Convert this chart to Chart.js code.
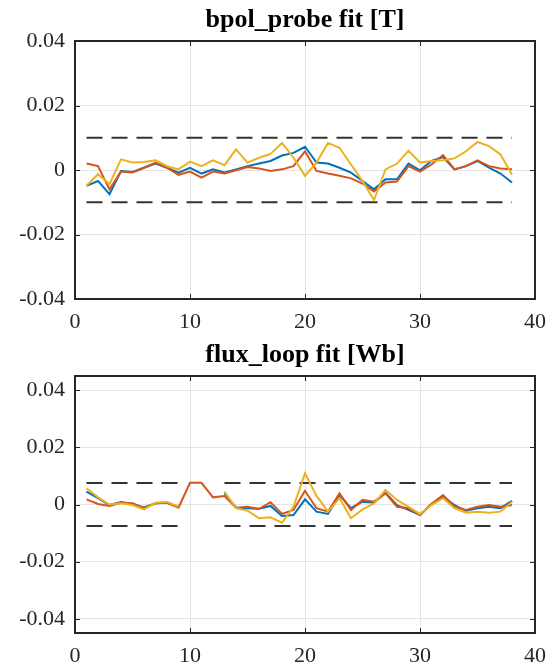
<!DOCTYPE html>
<html>
<head>
<meta charset="utf-8">
<title>fit residuals</title>
<script src="https://cdn.jsdelivr.net/npm/chart.js@4.4.0/dist/chart.umd.min.js"></script>
<style>
  body { margin: 0; background: #fff; }
  #wrap { position: relative; width: 546px; height: 667px; }
  canvas { position: absolute; left: 0; }
</style>
</head>
<body>
<div id="wrap">
  <canvas id="bpolChart" width="546" height="335" style="top:0"></canvas>
  <canvas id="fluxChart" width="546" height="332" style="top:335px"></canvas>
</div>
<script>
// sensor index along the x axis
const sensorIdx = [1, 2, 3, 4, 5, 6, 7, 8, 9, 10, 11, 12, 13, 14, 15, 16, 17, 18, 19,
  20, 21, 22, 23, 24, 25, 26, 27, 28, 29, 30, 31, 32, 33, 34, 35, 36, 37, 38];

// bpol_probe fit residuals [T]
const bpolBlue = [-0.0049, -0.0034, -0.0075, -0.0003, -0.0006, 0.0007, 0.0020, 0.0007, -0.0008, 0.0007,
  -0.0011, 0.0002, -0.0008, 0.0002, 0.0012, 0.0020, 0.0028, 0.0045, 0.0053, 0.0072,
  0.0023, 0.0020, 0.0007, -0.0008, -0.0034, -0.0060, -0.0029, -0.0029, 0.0020, -0.0001,
  0.0028, 0.0040, 0.0002, 0.0012, 0.0028, 0.0007, -0.0011, -0.0039];
const bpolRed = [0.0020, 0.0012, -0.0060, -0.0005, -0.0008, 0.0007, 0.0023, 0.0007, -0.0015, -0.0005,
  -0.0024, -0.0005, -0.0011, -0.0001, 0.0009, 0.0005, -0.0003, 0.0002, 0.0012, 0.0058,
  -0.0003, -0.0011, -0.0018, -0.0026, -0.0042, -0.0067, -0.0039, -0.0036, 0.0012, -0.0005,
  0.0017, 0.0046, 0.0002, 0.0012, 0.0030, 0.0012, 0.0005, 0.0002];
const bpolYellow = [-0.0049, -0.0013, -0.0044, 0.0033, 0.0023, 0.0025, 0.0030, 0.0012, 0.0002, 0.0026,
  0.0012, 0.0030, 0.0015, 0.0064, 0.0023, 0.0038, 0.0050, 0.0084, 0.0038, -0.0018,
  0.0023, 0.0084, 0.0069, 0.0017, -0.0034, -0.0093, 0.0002, 0.0020, 0.0060, 0.0023,
  0.0028, 0.0030, 0.0036, 0.0058, 0.0087, 0.0074, 0.0048, -0.0015];

// flux_loop fit residuals [Wb]
const fluxBlue = [0.0045, 0.0022, -0.0002, 0.0009, 0.0002, -0.0010, 0.0004, 0.0006, -0.0008, null,
  null, null, 0.0040, -0.0011, -0.0013, -0.0015, -0.0005, -0.0040, -0.0037, 0.0018,
  -0.0025, -0.0033, 0.0033, -0.0013, 0.0010, 0.0006, 0.0041, -0.0002, -0.0019, -0.0037,
  0.0002, 0.0027, -0.0002, -0.0022, -0.0013, -0.0008, -0.0013, 0.0013];
const fluxRed = [0.0018, 0.0002, -0.0005, 0.0006, 0.0004, -0.0013, 0.0004, 0.0006, -0.0011, 0.0076,
  0.0076, 0.0025, 0.0030, -0.0011, -0.0008, -0.0016, 0.0008, -0.0033, -0.0019, 0.0048,
  -0.0013, -0.0025, 0.0039, -0.0019, 0.0016, 0.0010, 0.0039, -0.0008, -0.0013, -0.0037,
  0.0002, 0.0033, -0.0008, -0.0019, -0.0008, -0.0002, -0.0008, -0.0002];
const fluxYellow = [0.0057, 0.0025, 0.0000, 0.0004, -0.0002, -0.0017, 0.0006, 0.0009, -0.0008, null,
  null, null, 0.0045, -0.0013, -0.0022, -0.0048, -0.0045, -0.0064, -0.0008, 0.0109,
  0.0030, -0.0025, 0.0022, -0.0048, -0.0017, 0.0004, 0.0051, 0.0016, -0.0008, -0.0033,
  -0.0002, 0.0022, -0.0013, -0.0029, -0.0025, -0.0029, -0.0025, 0.0010];

// tolerance bands (+/- level) and the index ranges they cover
const bpolLimit = 0.01;
const bpolLimitSpans = [[1, 38]];
const fluxLimit = 0.0075;
const fluxLimitSpans = [[1, 9], [13, 38]];

const xTicks = [0, 10, 20, 30, 40];
const bpolYTicks = [-0.04, -0.02, 0, 0.02, 0.04];
const fluxYTicks = [-0.04, -0.02, 0, 0.02, 0.04];

const FONT = "'Liberation Serif', 'Times New Roman', serif";
const AXIS_COLOR = '#262626';

const toPoints = (xs, ys) => xs.map((x, i) => ({ x: x, y: ys[i] }));

const limitPoints = (spans, level) => {
  const pts = [];
  spans.forEach((s, i) => {
    if (i > 0) pts.push({ x: (spans[i - 1][1] + s[0]) / 2, y: null });
    pts.push({ x: s[0], y: level }, { x: s[1], y: level });
  });
  return pts;
};

// axes box, inward tick marks and a title centred over the plot area
const boxPlugin = {
  id: 'boxPlugin',
  afterDraw(chart, args, opts) {
    const { ctx, chartArea: a, scales } = chart;
    const len = 5;
    ctx.save();
    ctx.strokeStyle = AXIS_COLOR;
    ctx.lineWidth = 1;
    ctx.beginPath();
    scales.x.ticks.forEach(t => {
      const px = Math.round(scales.x.getPixelForValue(t.value)) + 0.5;
      ctx.moveTo(px, a.bottom); ctx.lineTo(px, a.bottom - len);
      ctx.moveTo(px, a.top); ctx.lineTo(px, a.top + len);
    });
    scales.y.ticks.forEach(t => {
      const py = Math.round(scales.y.getPixelForValue(t.value)) + 0.5;
      ctx.moveTo(a.left, py); ctx.lineTo(a.left + len, py);
      ctx.moveTo(a.right, py); ctx.lineTo(a.right - len, py);
    });
    ctx.stroke();
    ctx.lineWidth = 2;
    ctx.strokeRect(a.left, a.top, a.right - a.left, a.bottom - a.top);

    ctx.fillStyle = '#000';
    ctx.font = 'bold 26px ' + FONT;
    ctx.textAlign = 'center';
    ctx.textBaseline = 'middle';
    ctx.fillText(opts.title, (a.left + a.right) / 2, a.top - 21);
    ctx.restore();
  }
};

function makeChart(id, title, blue, red, yellow, limit, spans, yMax, yTicks, xAxisH) {
  const line = (data, color, order) => ({
    data: data, borderColor: color, backgroundColor: color,
    borderWidth: 2, pointRadius: 0, tension: 0, spanGaps: false, order: order
  });
  const dashed = data => ({
    data: data, borderColor: '#333333', borderWidth: 2, borderDash: [16, 9],
    pointRadius: 0, spanGaps: false, order: 4
  });
  return new Chart(document.getElementById(id), {
    type: 'line',
    data: {
      datasets: [
        line(toPoints(sensorIdx, blue), '#0072BD', 3),
        line(toPoints(sensorIdx, red), '#D95319', 2),
        line(toPoints(sensorIdx, yellow), '#EDB120', 1),
        dashed(limitPoints(spans, limit)),
        dashed(limitPoints(spans, -limit))
      ]
    },
    options: {
      responsive: false,
      animation: false,
      layout: { padding: { left: 0, right: 11, top: 41, bottom: 0 } },
      plugins: {
        legend: { display: false },
        tooltip: { enabled: false },
        title: { display: false },
        boxPlugin: { title: title }
      },
      scales: {
        x: {
          type: 'linear', min: 0, max: 40,
          afterBuildTicks: s => { s.ticks = xTicks.map(v => ({ value: v })); },
          afterFit: s => { s.height = xAxisH; s.paddingLeft = 0; s.paddingRight = 0; },
          grid: { color: '#e4e4e4', drawTicks: false },
          border: { display: false },
          ticks: { color: AXIS_COLOR, font: { family: FONT, size: 22 }, padding: 10, maxRotation: 0 }
        },
        y: {
          min: -yMax, max: yMax,
          afterBuildTicks: s => { s.ticks = yTicks.map(v => ({ value: v })); },
          afterFit: s => { s.width = 75; s.paddingTop = 0; s.paddingBottom = 0; },
          grid: { color: '#e4e4e4', drawTicks: false },
          border: { display: false },
          ticks: {
            color: AXIS_COLOR, font: { family: FONT, size: 22 }, padding: 10,
            callback: v => (v === 0 ? '0' : v.toFixed(2))
          }
        }
      }
    },
    plugins: [boxPlugin]
  });
}

makeChart('bpolChart', 'bpol_probe fit [T]', bpolBlue, bpolRed, bpolYellow,
  bpolLimit, bpolLimitSpans, 0.04, bpolYTicks, 36);
makeChart('fluxChart', 'flux_loop fit [Wb]', fluxBlue, fluxRed, fluxYellow,
  fluxLimit, fluxLimitSpans, 0.045, fluxYTicks, 34);
</script>
</body>
</html>
